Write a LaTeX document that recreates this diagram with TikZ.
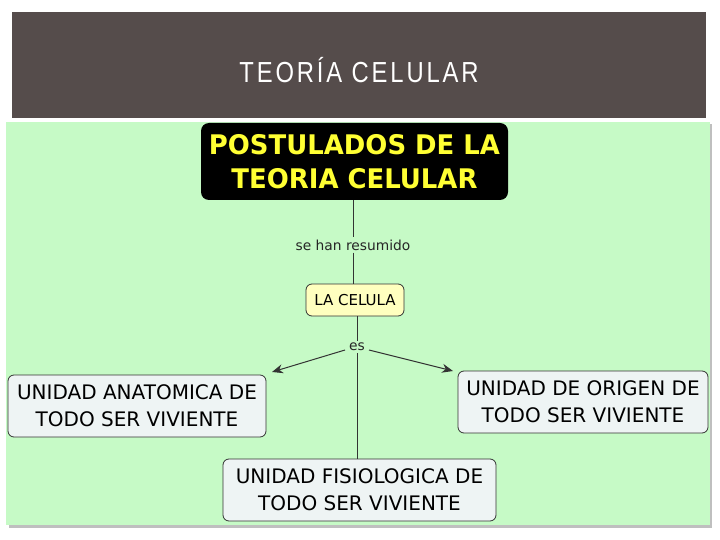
\documentclass[tikz,border=0pt]{standalone}
\usepackage{fontspec}
\setmainfont{DejaVu Sans}
\newfontfamily\titlefont[LetterSpace=12]{Liberation Sans}
\usetikzlibrary{arrows.meta}
\definecolor{banner}{HTML}{554C4B}
\definecolor{bggreen}{HTML}{C6FAC6}
\definecolor{boxfill}{HTML}{EEF4F4}
\definecolor{celfill}{HTML}{FFFFBF}
\definecolor{ylw}{HTML}{FFFF33}
\definecolor{linec}{HTML}{333333}
\tikzset{
  concept/.style={draw=black!80, line width=0.8pt, rounded corners=6pt, fill=boxfill, align=center, font=\fontsize{20}{27}\selectfont, inner sep=0pt},
  link/.style={draw=linec, line width=1pt},
  arr/.style={link, -{Stealth[length=11pt,width=9pt]}},
  lbl/.style={font=\fontsize{13.8}{15}\selectfont, inner sep=2pt, text=black!85},
}
\begin{document}
\begin{tikzpicture}[x=1pt,y=-1pt]
\useasboundingbox (0,0) rectangle (720,540);
\fill[white] (0,0) rectangle (720,540);
% banner
\fill[banner] (12,12) rectangle (706,118);
\node[text=white, font=\titlefont\fontsize{29}{32}\selectfont] (title) at (359,70) {\scalebox{0.82}[1]{TEORÍA CELULAR}};
% green area
\fill[black!25] (9,124) rectangle (712,528);
\fill[bggreen] (6,122) rectangle (710,525);
% top node
\node[fill=black, rounded corners=8pt, minimum width=307pt, minimum height=77pt, align=center, text=ylw, font=\bfseries\fontsize{27}{34}\selectfont, inner sep=0pt] (post) at (354.5,161.5) {\scalebox{0.96}[1]{POSTULADOS DE LA}\\\scalebox{0.96}[1]{TEORIA CELULAR}};
\node[lbl] (res) at (353,245) {se han resumido};
\node[draw=black!80, line width=0.8pt, rounded corners=6pt, fill=celfill, minimum width=98pt, minimum height=32pt, inner sep=0pt, font=\fontsize{15}{17}\selectfont] (cel) at (355,300) {LA CELULA};
\node[lbl] (es) at (357,347) {es};
\node[concept, minimum width=258pt, minimum height=62pt] (ana) at (137,406) {UNIDAD ANATOMICA DE\\TODO SER VIVIENTE};
\node[concept, minimum width=250pt, minimum height=62pt] (ori) at (583,402) {UNIDAD DE ORIGEN DE\\TODO SER VIVIENTE};
\node[concept, minimum width=273pt, minimum height=62pt] (fis) at (359.5,490) {UNIDAD FISIOLOGICA DE\\TODO SER VIVIENTE};
% connectors
\draw[link] (post.south -| res.north) -- (res.north);
\draw[link] (res.south) -- (res.south |- cel.north);
\draw[link] (cel.south -| es.north) -- (es.north);
\coordinate (esL) at (345,350);
\coordinate (esR) at (369,350);
\coordinate (tipL) at (272,372);
\coordinate (tipR) at (453,371);
\draw[arr] (esL) -- (tipL);
\draw[arr] (esR) -- (tipR);
\draw[link] (es.south) -- (es.south |- fis.north);
\end{tikzpicture}
\end{document}
